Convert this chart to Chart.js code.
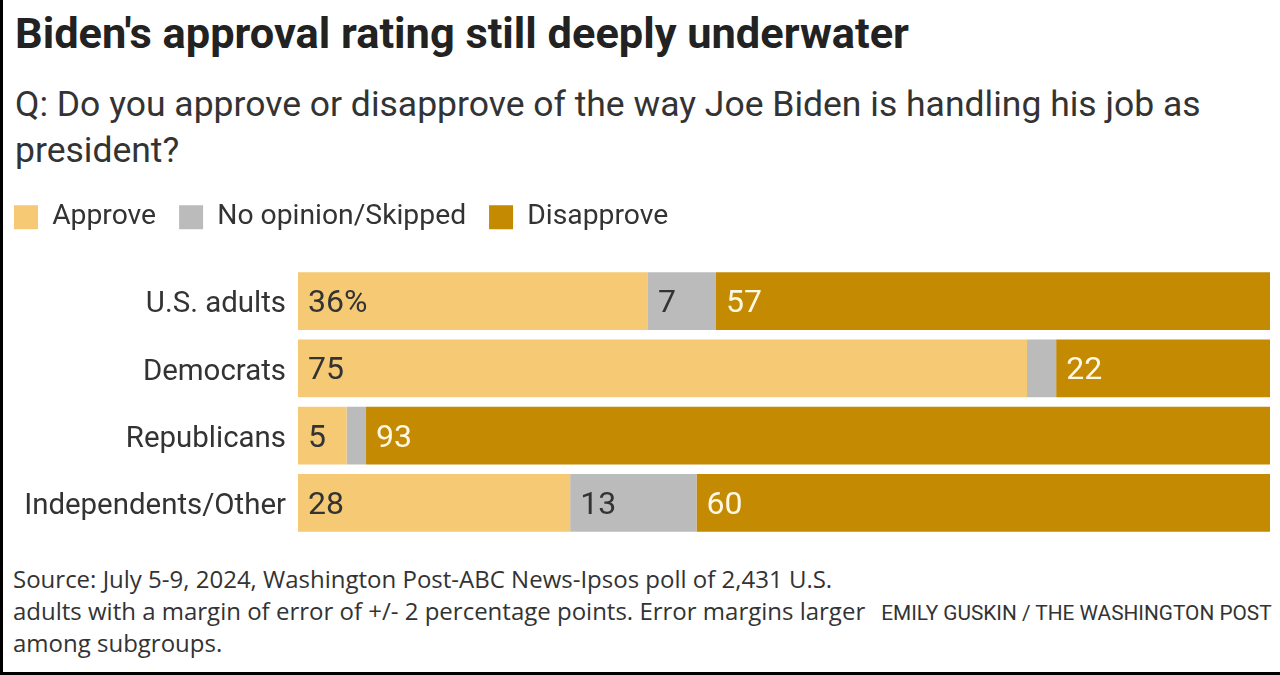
<!DOCTYPE html>
<html><head><meta charset="utf-8">
<script src="https://cdn.jsdelivr.net/npm/chart.js@4.4.1/dist/chart.umd.min.js"></script>
<style>
html,body{margin:0;padding:0;background:#fff;width:1280px;height:675px;overflow:hidden;}
#wrap{position:relative;width:1280px;height:675px;overflow:hidden;background:#fff;}
.t{position:absolute;white-space:nowrap;margin:0;}
#chartBox{position:absolute;left:-9px;top:180px;width:1289px;height:362px;}
.bl{position:absolute;left:0;top:0;width:3px;height:675px;background:#000;z-index:5;}
.bb{position:absolute;left:0;bottom:0;width:1280px;height:3px;background:#000;z-index:5;}
</style></head>
<body><div id="wrap">
<div class="t" id="title">Biden's approval rating still deeply underwater</div>
<div class="t" id="sub1">Q: Do you approve or disapprove of the way Joe Biden is handling his job as</div>
<div class="t" id="sub2">president?</div>
<div id="chartBox"><canvas id="c"></canvas></div>
<div class="t" id="src1">Source: July 5-9, 2024, Washington Post-ABC News-Ipsos poll of 2,431 U.S.</div>
<div class="t" id="src2">adults with a margin of error of +/- 2 percentage points. Error margins larger</div>
<div class="t" id="src3">among subgroups.</div>
<div class="t" id="credit">EMILY GUSKIN / THE WASHINGTON POST</div>
<div class="bl"></div><div class="bb"></div>
</div>
<script>
// ---- data ----
const categories = ['U.S. adults', 'Democrats', 'Republicans', 'Independents/Other'];
const seriesNames = ['Approve', 'No opinion/Skipped', 'Disapprove'];
const approve = [36, 75, 5, 28];
const noOpinion = [7, 3, 2, 13];
const disapprove = [57, 22, 93, 60];
const seriesColors = ['#F6C975', '#BBBBBB', '#C38A02'];

// ---- text sizing helpers ----
const mc = document.createElement('canvas').getContext('2d');
function fit(text, family, weight, target) {
  mc.font = weight + ' 100px ' + family;
  return 100 * target / mc.measureText(text).width;
}
function place(id, family, weight, size, x, baseline, color, alignRight) {
  const el = document.getElementById(id);
  mc.font = weight + ' ' + size + 'px ' + family;
  const m = mc.measureText(el.textContent);
  const asc = m.fontBoundingBoxAscent, desc = m.fontBoundingBoxDescent;
  const off = (size + asc - desc) / 2;
  el.style.fontFamily = family;
  el.style.fontWeight = weight;
  el.style.fontSize = size + 'px';
  el.style.lineHeight = size + 'px';
  el.style.color = color;
  el.style.top = (baseline - off) + 'px';
  if (alignRight) { el.style.left = (x - m.width) + 'px'; } else { el.style.left = x + 'px'; }
}
const F1 = 'Roboto';
const F2 = '"Open Sans"';
const titleSize = fit('Biden\'s approval rating still deeply underwater', F1, 700, 894);
place('title', F1, 700, titleSize, 15, 48, '#222');
const subSize = fit('Q: Do you approve or disapprove of the way Joe Biden is handling his job as', F1, 400, 1186);
place('sub1', F1, 400, subSize, 15, 117, '#333');
place('sub2', F1, 400, subSize, 15, 163, '#333');
const srcSize = (fit('Source: July 5-9, 2024, Washington Post-ABC News-Ipsos poll of 2,431 U.S.', F2, 400, 828) +
                 fit('adults with a margin of error of +/- 2 percentage points. Error margins larger', F2, 400, 843)) / 2;
place('src1', F2, 400, srcSize, 13, 589, '#333');
place('src2', F2, 400, srcSize, 13, 621, '#333');
place('src3', F2, 400, srcSize, 13, 653, '#333');
const crSize = fit('EMILY GUSKIN / THE WASHINGTON POST', F1, 400, 391);
place('credit', F1, 400, crSize, 1272, 620, '#333', true);

const legSize = fit('Approve', F1, 400, 104);
const tickSize = fit('Independents/Other', F1, 400, 262);
const valSize = fit('93', F1, 400, 36);

// chart geometry (canvas coords)
const canvasTop = 180;
const legPad = 23;
const legH = Math.max(legSize, 24) + legPad + 10;
const areaTop = 267.5 - canvasTop;
const xAxisH = areaTop - legH;

const valueLabels = {
  id: 'valueLabels',
  afterDatasetsDraw(chart) {
    const ctx = chart.ctx;
    ctx.save();
    ctx.font = '400 ' + valSize + 'px ' + F1;
    ctx.textBaseline = 'middle';
    ctx.textAlign = 'left';
    chart.data.datasets.forEach((ds, di) => {
      const meta = chart.getDatasetMeta(di);
      meta.data.forEach((bar, i) => {
        const v = ds.data[i];
        if (v < 5) return;
        const left = Math.min(bar.x, bar.base);
        ctx.fillStyle = di === 2 ? '#FFF8E6' : '#333';
        ctx.fillText(v + (i === 0 && di === 0 ? '%' : ''), left + 10, bar.y + 3);
      });
    });
    ctx.restore();
  }
};

const seriesData = [approve, noOpinion, disapprove];
new Chart(document.getElementById('c'), {
  type: 'bar',
  data: {
    labels: categories,
    datasets: seriesNames.map((n, k) => ({
      label: n,
      data: seriesData[k],
      backgroundColor: seriesColors[k],
      borderWidth: 0,
      barPercentage: 0.862,
      categoryPercentage: 1
    }))
  },
  options: {
    indexAxis: 'y',
    responsive: true,
    maintainAspectRatio: false,
    animation: false,
    layout: { padding: { left: 0, right: 10, top: 0, bottom: 5.5 } },
    scales: {
      x: {
        stacked: true, min: 0, max: 100, position: 'top',
        grid: { display: false, drawTicks: false },
        border: { display: false },
        ticks: { display: false },
        afterFit(s) { s.height = xAxisH; s.paddingLeft = 0; s.paddingRight = 0; }
      },
      y: {
        stacked: true,
        grid: { display: false, drawTicks: false },
        border: { display: false },
        ticks: { color: '#333', padding: 12, labelOffset: 4, font: { family: F1, size: tickSize } },
        afterFit(s) { s.width = 307; s.paddingTop = 0; s.paddingBottom = 0; }
      }
    },
    plugins: {
      legend: {
        position: 'top', align: 'start',
        labels: { boxWidth: 24, boxHeight: 24, padding: legPad, color: '#333', font: { family: F1, size: legSize } }
      },
      tooltip: { enabled: false }
    }
  },
  plugins: [valueLabels]
});
</script>
</body></html>
